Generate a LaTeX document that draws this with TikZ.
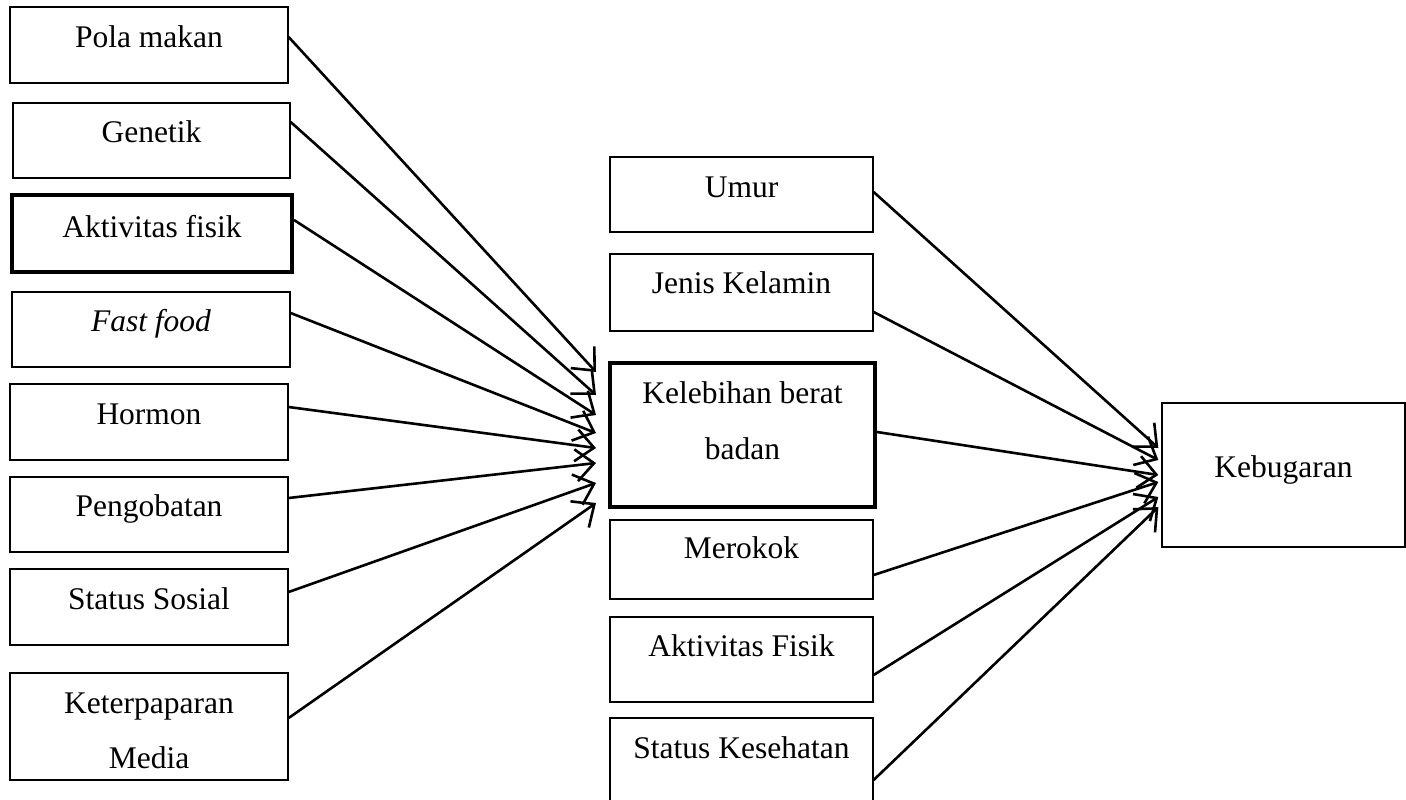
\documentclass[tikz,border=0pt]{standalone}
\usepackage{fontspec}
\setmainfont{Liberation Serif}
\usetikzlibrary{arrows.meta}
\begin{document}
\begin{tikzpicture}[x=1pt,y=-1pt,
  box/.style={draw=black, line width=1.3pt, rectangle, inner sep=0pt},
  thickbox/.style={box, line width=4pt},
  lbl/.style={anchor=base, inner sep=0pt, font=\fontsize{31.5}{38}\selectfont},
  conn/.style={draw=black, line width=2.6pt, -{Straight Barb[length=18pt,width=32pt,line width=2.6pt]}}]
\useasboundingbox (0,0) rectangle (1406,800);
% left column
\node[box, minimum width=278pt, minimum height=76pt] (pola) at (149,45) {};
\node[box, minimum width=277pt, minimum height=75pt] (gen) at (151.5,140.5) {};
\node[thickbox, minimum width=280pt, minimum height=77pt] (akt) at (152,233.5) {};
\node[box, minimum width=278pt, minimum height=75pt] (fast) at (151,329.5) {};
\node[box, minimum width=278pt, minimum height=76pt] (horm) at (149,422) {};
\node[box, minimum width=278pt, minimum height=75pt] (peng) at (149,514.5) {};
\node[box, minimum width=278pt, minimum height=76pt] (sos) at (149,607) {};
\node[box, minimum width=278pt, minimum height=107pt] (ket) at (149,726.5) {};
\node[lbl] (tpola) at (149,48) {Pola makan};
\node[lbl] (tgen) at (151.5,142) {Genetik};
\node[lbl] (takt) at (152,237) {Aktivitas fisik};
\node[lbl] (tfast) at (151,331) {\itshape Fast food};
\node[lbl] (thorm) at (149,424) {Hormon};
\node[lbl] (tpeng) at (149,516) {Pengobatan};
\node[lbl] (tsos) at (149,609) {Status Sosial};
\node[lbl] (tket1) at (149,713) {Keterpaparan};
\node[lbl] (tket2) at (149,768) {Media};
% middle column
\node[box, minimum width=263pt, minimum height=75pt] (umur) at (741.5,194.5) {};
\node[box, minimum width=263pt, minimum height=77pt] (jenis) at (741.5,292.5) {};
\node[thickbox, minimum width=265pt, minimum height=144pt] (keb) at (742.5,435) {};
\node[box, minimum width=263pt, minimum height=79pt] (mer) at (741.5,559.5) {};
\node[box, minimum width=263pt, minimum height=85pt] (afis) at (741.5,659.5) {};
\node[box, minimum width=263pt, minimum height=112pt] (kes) at (741.5,774) {};
\node[lbl] (tumur) at (741.5,197) {Umur};
\node[lbl] (tjenis) at (741.5,293) {Jenis Kelamin};
\node[lbl] (tkeb1) at (742.5,403) {Kelebihan berat};
\node[lbl] (tkeb2) at (742.5,459) {badan};
\node[lbl] (tmer) at (741.5,558) {Merokok};
\node[lbl] (tafis) at (741.5,656) {Aktivitas Fisik};
\node[lbl] (tkes) at (741.5,758) {Status Kesehatan};
% right
\node[box, minimum width=243pt, minimum height=144pt] (bug) at (1283.5,475) {};
\node[lbl] (tbug) at (1283.5,477) {Kebugaran};
% connectors left -> middle
\draw[conn] ([yshift=8pt]pola.east) -- ([xshift=-12pt,yshift=63pt]keb.west);
\draw[conn] ([yshift=18.5pt]gen.east) -- ([xshift=-12pt,yshift=40pt]keb.west);
\draw[conn] ([yshift=13.5pt]akt.east) -- ([xshift=-12pt,yshift=20pt]keb.west);
\draw[conn] ([yshift=16.5pt]fast.east) -- ([xshift=-12pt,yshift=2pt]keb.west);
\draw[conn] ([yshift=15pt]horm.east) -- ([xshift=-12pt,yshift=-13pt]keb.west);
\draw[conn] ([yshift=16.5pt]peng.east) -- ([xshift=-12pt,yshift=-28pt]keb.west);
\draw[conn] ([yshift=15pt]sos.east) -- ([xshift=-12pt,yshift=-48pt]keb.west);
\draw[conn] ([yshift=8.5pt]ket.east) -- ([xshift=-12pt,yshift=-68pt]keb.west);
% connectors middle -> right
\draw[conn] ([yshift=2.5pt]umur.east) -- ([xshift=-3pt,yshift=27pt]bug.west);
\draw[conn] ([yshift=-19.5pt]jenis.east) -- ([xshift=-3pt,yshift=15pt]bug.west);
\draw[conn] ([yshift=3pt]keb.east) -- ([xshift=-3pt,yshift=0pt]bug.west);
\draw[conn] ([yshift=-15.5pt]mer.east) -- ([xshift=-3pt,yshift=-7pt]bug.west);
\draw[conn] ([yshift=-15.5pt]afis.east) -- ([xshift=-3pt,yshift=-22pt]bug.west);
\draw[conn] ([yshift=-6pt]kes.east) -- ([xshift=-3pt,yshift=-32pt]bug.west);
\end{tikzpicture}
\end{document}
